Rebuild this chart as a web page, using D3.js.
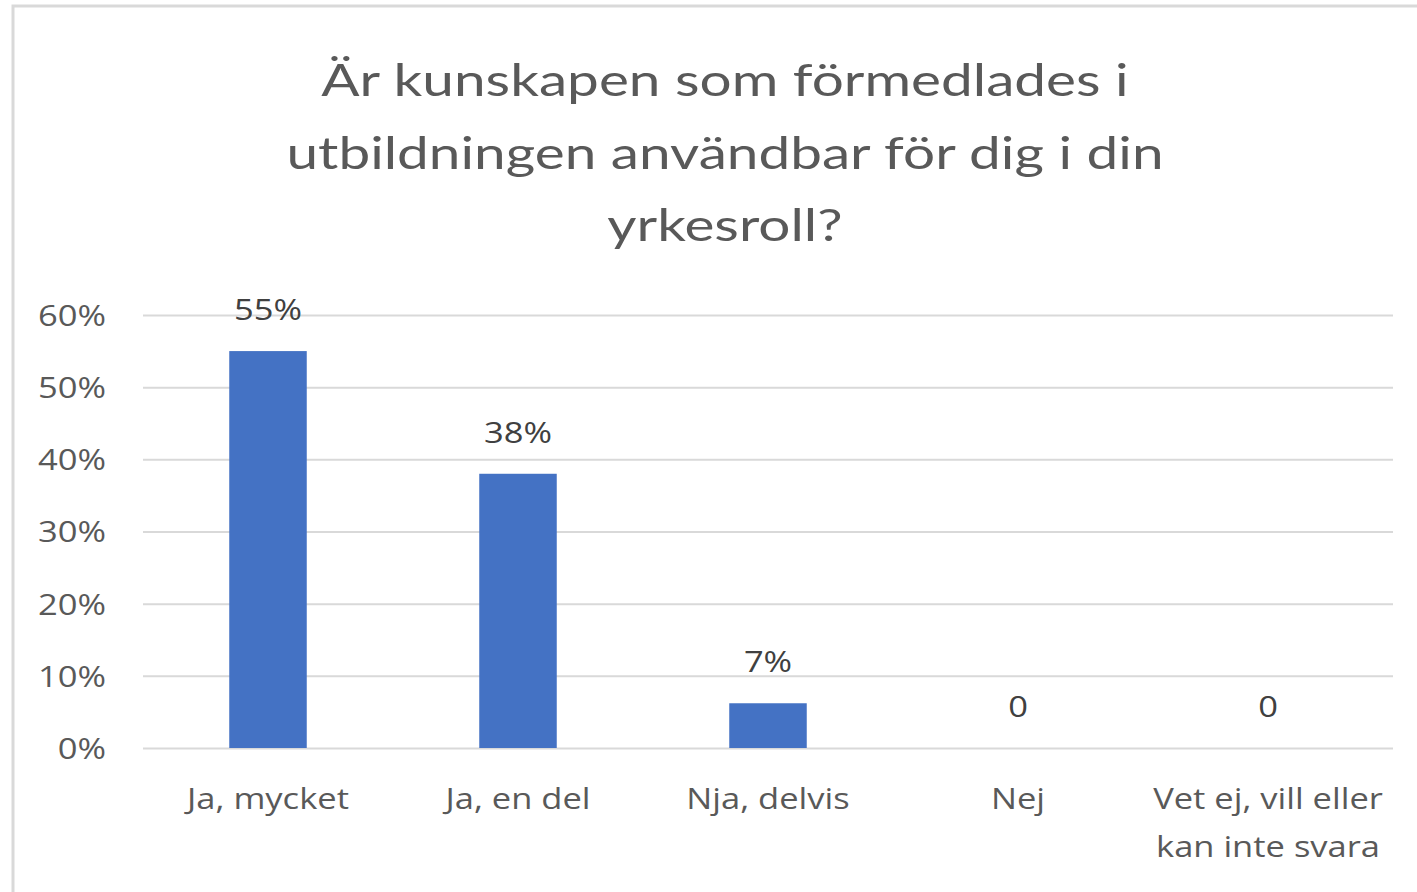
<!DOCTYPE html>
<html>
<head>
<meta charset="utf-8">
<script src="https://cdn.jsdelivr.net/npm/d3@7"></script>
<style>
  html, body { margin: 0; padding: 0; background: #fff; overflow: hidden; }
  svg { display: block; }
</style>
</head>
<body>
<svg id="chart" width="1417" height="892"></svg>
<script>
const titleLines = ["Är kunskapen som förmedlades i", "utbildningen användbar för dig i din", "yrkesroll?"];
const categories = ["Ja, mycket", "Ja, en del", "Nja, delvis", "Nej", "Vet ej, vill eller kan inte svara"];
const categoryLines = [["Ja, mycket"], ["Ja, en del"], ["Nja, delvis"], ["Nej"], ["Vet ej, vill eller", "kan inte svara"]];
const values = [0.55, 0.38, 0.062, 0, 0];
const valueLabels = ["55%", "38%", "7%", "0", "0"];
const yTicks = [0, 0.1, 0.2, 0.3, 0.4, 0.5, 0.6];

const svg = d3.select("#chart");
const W = 1417, H = 892;
const margin = { left: 143, right: 24, top: 315, bottom: 144 };
const plotW = W - margin.left - margin.right;
const plotH = H - margin.top - margin.bottom;
const SX = 1.19; // horizontal stretch seen in the reference text
const labelFont = "'Open Sans', 'Noto Sans', sans-serif";

// frame (cropped screenshot: only left and top edges visible)
svg.append("rect").attr("x", 13).attr("y", 6).attr("width", W).attr("height", H)
  .attr("fill", "#fff").attr("stroke", "#d9d9d9").attr("stroke-width", 3);

// title
svg.append("g").selectAll("text").data(titleLines).join("text")
  .attr("transform", (d, i) => `translate(725,${96 + i * 72.5}) scale(1.26,1)`)
  .attr("text-anchor", "middle")
  .attr("font-family", "Lato, 'Open Sans', sans-serif")
  .attr("font-size", 45)
  .attr("fill", "#595959")
  .text(d => d);

const g = svg.append("g").attr("transform", `translate(${margin.left},${margin.top})`);

const x = d3.scaleBand().domain(categories).range([0, plotW]).paddingInner(0.69).paddingOuter(0.345);
const y = d3.scaleLinear().domain([0, 0.6]).range([plotH, 0]);

// gridlines + y axis via d3 axis
const yAxis = d3.axisLeft(y).tickValues(yTicks).tickFormat(d3.format(".0%")).tickSize(-plotW).tickPadding(37);
const ya = g.append("g").call(yAxis);
ya.select(".domain").remove();
ya.selectAll(".tick line").attr("stroke", "#d9d9d9").attr("stroke-width", 2);
ya.selectAll(".tick text")
  .attr("x", 0)
  .attr("transform", `translate(-37,0) scale(${SX},1)`)
  .attr("font-family", labelFont)
  .attr("font-size", 29).attr("fill", "#595959").attr("dy", "0.36em");

// bars
g.append("g").selectAll("rect").data(values).join("rect")
  .attr("x", (d, i) => x(categories[i]))
  .attr("width", x.bandwidth())
  .attr("y", d => y(d))
  .attr("height", d => plotH - y(d))
  .attr("fill", "#4472c4");

// data labels
g.append("g").selectAll("text").data(values).join("text")
  .attr("transform", (d, i) => `translate(${x(categories[i]) + x.bandwidth() / 2},${y(d) - 31}) scale(${SX},1)`)
  .attr("text-anchor", "middle")
  .attr("font-family", labelFont)
  .attr("font-size", 29).attr("fill", "#404040")
  .text((d, i) => valueLabels[i]);

// category labels
const xa = g.append("g").attr("transform", `translate(0,${plotH})`);
categories.forEach((c, i) => {
  const t = xa.append("text")
    .attr("transform", `translate(${x(c) + x.bandwidth() / 2},61) scale(${SX},1)`)
    .attr("text-anchor", "middle")
    .attr("font-family", labelFont)
    .attr("font-size", 29).attr("fill", "#595959");
  categoryLines[i].forEach((l, j) => {
    t.append("tspan").attr("x", 0).attr("dy", j === 0 ? 0 : 48).text(l);
  });
});
</script>
</body>
</html>
